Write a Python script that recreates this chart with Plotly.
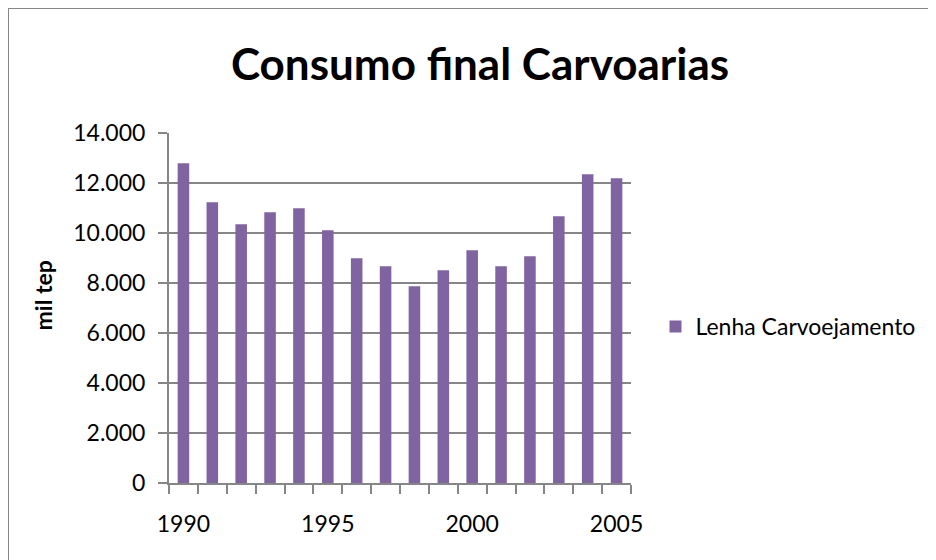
import plotly.graph_objects as go

# Consumo final de lenha em carvoarias (mil tep)
anos = list(range(1990, 2006))
lenha_carvoejamento = [12790, 11230, 10350, 10830, 10990, 10110, 8990, 8670,
                       7870, 8510, 9310, 8670, 9070, 10670, 12350, 12190]
anos_rotulo = [1990, 1995, 2000, 2005]

cinza = "#868686"
fonte = "Lato"

fig = go.Figure()
fig.add_trace(go.Bar(x=anos, y=lenha_carvoejamento, name="Lenha Carvoejamento",
                     marker=dict(color="#8064A2", line=dict(width=0))))

fig.update_layout(
    width=936, height=560,
    margin=dict(l=161, r=313, t=125, b=85),
    paper_bgcolor="white", plot_bgcolor="white",
    separators=",.",
    font=dict(family=fonte, size=23, color="black"),
    bargap=0.6,
    showlegend=True,
    title=dict(text="<b>Consumo final Carvoarias</b>", font=dict(family=fonte, size=44),
               x=472/936, xanchor="center", xref="container",
               y=1 - 57/560, yanchor="middle", yref="container"),
    legend=dict(x=1.053, xanchor="left", y=0.447, yanchor="middle",
                font=dict(family=fonte, size=23), bgcolor="rgba(0,0,0,0)"),
)

fig.update_xaxes(range=[1989.5, 2005.5], tickvals=anos_rotulo,
                 ticks="", showgrid=False, showline=True, linecolor=cinza, linewidth=2,
                 ticklabelstandoff=19,
                 minor=dict(tick0=1989.5, dtick=1, ticks="outside", ticklen=9,
                            tickcolor=cinza, tickwidth=2, showgrid=False))
fig.update_yaxes(range=[0, 14000], dtick=2000, tickformat=",d",
                 ticks="outside", ticklen=9, tickcolor=cinza, tickwidth=2,
                 showline=True, linecolor=cinza, linewidth=2,
                 gridcolor=cinza, gridwidth=2, zeroline=False,
                 ticklabelstandoff=8)

fig.add_annotation(text="<b>mil tep</b>", textangle=-90, x=(35 - 161) / 462, y=0.536,
                   xanchor="center", yanchor="middle",
                   xref="paper", yref="paper", showarrow=False,
                   font=dict(family=fonte, size=23))

# moldura do gráfico
fig.add_shape(type="rect", xref="paper", yref="paper",
              x0=-161 / 462, x1=1.8, y0=-0.5, y1=475 / 350,
              line=dict(color=cinza, width=2), layer="below")

fig.write_html("out.html")
